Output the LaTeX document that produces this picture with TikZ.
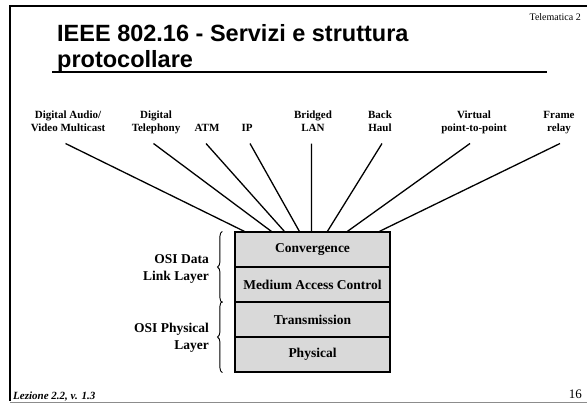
\documentclass[tikz,border=0pt]{standalone}
\usepackage{fontspec}
\setmainfont{Liberation Serif}
\newfontfamily\arialfont{Liberation Sans}
\usetikzlibrary{decorations.pathreplacing,calc}
\begin{document}
\begin{tikzpicture}[x=1pt,y=-1pt,
  lbl/.style={font=\bfseries\fontsize{11}{13.5}\selectfont, align=center, inner sep=0pt, text depth=3pt, anchor=south},
  layer/.style={draw, line width=1.2pt, fill=black!15, minimum width=155pt, minimum height=35pt, inner sep=0pt, font=\bfseries\fontsize{13.5}{16}\selectfont},
  conn/.style={line width=1.3pt},
  osi/.style={font=\bfseries\fontsize{13.5}{16.5}\selectfont, align=right, anchor=east, inner sep=0pt},
  brc/.style={decorate, decoration={brace, amplitude=5pt}, line width=0.9pt},
  ttl/.style={anchor=base west, inner sep=0pt, font=\arialfont\bfseries\fontsize{23.5}{26}\selectfont}]
\useasboundingbox (0,0) rectangle (587,405);
% slide frame
\draw[line width=2pt] (587,6) -- (10,6) -- (10,401);
\draw[black!45, line width=1pt] (10,402) -- (587,402);
% title
\node[ttl] (title1) at (57,41) {IEEE 802.16 - Servizi e struttura};
\node[ttl] (title2) at (57,67) {protocollare};
\draw[line width=2.5pt] (52,72) -- (547,72);
\node[anchor=base east, inner sep=0pt, font=\fontsize{10}{12}\selectfont] (tel) at (581,20) {Telematica 2};
\node[anchor=base west, inner sep=0pt, font=\bfseries\itshape\fontsize{11}{13}\selectfont] (lez) at (13,399) {Lezione 2.2, v. 1.3};
\node[anchor=base east, inner sep=0pt, font=\fontsize{13}{15}\selectfont] (num) at (582,398) {16};
% service labels
\node[lbl] (a1) at (68,135) {Digital Audio/\\Video Multicast};
\node[lbl] (a2) at (156,135) {Digital\\Telephony};
\node[lbl] (a3) at (207,135) {ATM};
\node[lbl] (a4) at (247,135) {IP};
\node[lbl] (a5) at (313,135) {Bridged\\LAN};
\node[lbl] (a6) at (380,135) {Back\\Haul};
\node[lbl] (a7) at (474,135) {Virtual\\point-to-point};
\node[lbl] (a8) at (559,135) {Frame\\relay};
% protocol stack
\node[layer] (conv) at (312.5,249.5) {Convergence};
\node[layer] (mac) at (312.5,284.5) {Medium Access Control};
\node[layer] (trans) at (312.5,319.5) {Transmission};
\node[layer] (phys) at (312.5,354.5) {Physical};
% connectors
\foreach \n/\dx/\ex in {a1/-2.5/10, a2/-2.5/37, a3/-1/50, a4/3/65, a5/-1.5/77, a6/2/93, a7/-4/113, a8/1/145}
  \draw[conn] ($(\n.south)+(\dx,8.5)$) -- ($(conv.north west)+(\ex,0)$);
% braces and OSI labels
\draw[brc] ($(mac.south west)+(-12,0)$) -- ($(conv.north west)+(-12,0)$);
\draw[brc] ($(phys.south west)+(-12,0)$) -- ($(trans.north west)+(-12,0)$);
\node[osi] (dl) at (209,269) {OSI Data\\Link Layer};
\node[osi] (pl) at (209,338) {OSI Physical\\Layer};
\end{tikzpicture}
\end{document}
